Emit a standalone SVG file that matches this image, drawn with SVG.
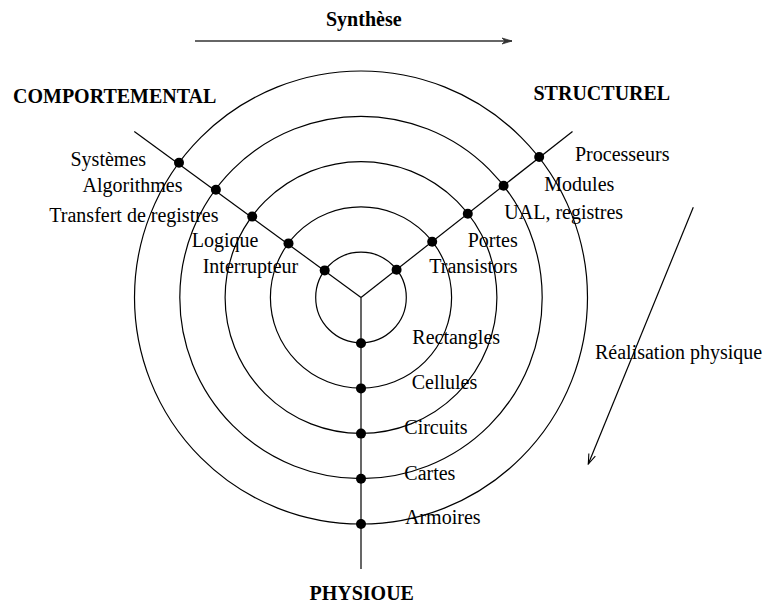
<svg xmlns="http://www.w3.org/2000/svg" width="764" height="606" viewBox="0 0 764 606">
<defs>
<style>
.t{font-family:"Liberation Serif","Times New Roman",serif;font-size:20px;fill:#000}
.b{font-weight:bold}
.ln{stroke:#000;stroke-width:1.2;fill:none}
.c{stroke:#000;stroke-width:1.2;fill:none}
.d{fill:#000}
</style>
<marker id="ah" markerWidth="12" markerHeight="10" refX="11" refY="5" orient="auto" markerUnits="userSpaceOnUse">
<path d="M1,1.5 L11,5 L1,8.5" fill="none" stroke="#000" stroke-width="1.1"/>
</marker>
<marker id="ah2" markerWidth="12" markerHeight="8" refX="10" refY="4" orient="auto" markerUnits="userSpaceOnUse">
<path d="M0,1 L10,4 L0,7 L3,4 Z" fill="#333" stroke="#333" stroke-width="0.8"/>
</marker>
</defs>
<rect width="764" height="606" fill="#fff"/>

<g id="circles">
<circle class="c" cx="361" cy="297.5" r="45.3"/>
<circle class="c" cx="361" cy="297.5" r="90.6"/>
<circle class="c" cx="361" cy="297.5" r="135.9"/>
<circle class="c" cx="361" cy="297.5" r="181.2"/>
<circle class="c" cx="361" cy="297.5" r="226.5"/>
</g>

<g id="connectors">
<line class="ln" x1="134.3" y1="131.5" x2="361" y2="297.5"/>
<line class="ln" x1="572.5" y1="131.5" x2="361" y2="297.5"/>
<line class="ln" x1="361" y1="297.5" x2="361" y2="569"/>
<line x1="195" y1="41" x2="512" y2="41" stroke="#333" stroke-width="1.4" marker-end="url(#ah2)"/>
<line class="ln" x1="693.3" y1="207.3" x2="588.3" y2="464" marker-end="url(#ah)"/>
</g>

<g id="dots">
<circle class="d" cx="324.7" cy="270.4" r="5"/>
<circle class="d" cx="288.5" cy="243.4" r="5"/>
<circle class="d" cx="252.2" cy="216.6" r="5"/>
<circle class="d" cx="215.9" cy="189.8" r="5"/>
<circle class="d" cx="179" cy="162.8" r="5"/>
<circle class="d" cx="396.6" cy="269.8" r="5"/>
<circle class="d" cx="432.2" cy="241.7" r="5"/>
<circle class="d" cx="467.8" cy="213.8" r="5"/>
<circle class="d" cx="503.6" cy="185.7" r="5"/>
<circle class="d" cx="539.2" cy="157" r="5"/>
<circle class="d" cx="361" cy="343.2" r="5"/>
<circle class="d" cx="361" cy="388.4" r="5"/>
<circle class="d" cx="361" cy="433.6" r="5"/>
<circle class="d" cx="361" cy="478.8" r="5"/>
<circle class="d" cx="361" cy="524" r="5"/>
</g>

<g id="synthese"><text class="t b" x="326" y="26">Synthèse</text></g>
<g id="comportemental"><text class="t b" x="13" y="102.5">COMPORTEMENTAL</text></g>
<g id="structurel"><text class="t b" x="533.5" y="99.5">STRUCTUREL</text></g>
<g id="physique"><text class="t b" x="309.5" y="600">PHYSIOUE</text></g>
<g id="realisation"><text class="t" x="595" y="358.5">Réalisation physique</text></g>

<g id="labels-comportemental">
<text class="t" x="70.5" y="165.7">Systèmes</text>
<text class="t" x="82.5" y="192.3">Algorithmes</text>
<text class="t" x="49.3" y="222.3">Transfert de registres</text>
<text class="t" x="191.7" y="246.7">Logique</text>
<text class="t" x="202.7" y="272.7">Interrupteur</text>
</g>
<g id="labels-structurel">
<text class="t" x="575" y="160.7">Processeurs</text>
<text class="t" x="544.3" y="191">Modules</text>
<text class="t" x="504.3" y="219">UAL, registres</text>
<text class="t" x="467.7" y="246.7">Portes</text>
<text class="t" x="429.3" y="273.3">Transistors</text>
</g>
<g id="labels-physique">
<text class="t" x="412.3" y="344">Rectangles</text>
<text class="t" x="411.7" y="389">Cellules</text>
<text class="t" x="404.3" y="434">Circuits</text>
<text class="t" x="404.3" y="480">Cartes</text>
<text class="t" x="405" y="524">Armoires</text>
</g>
</svg>
